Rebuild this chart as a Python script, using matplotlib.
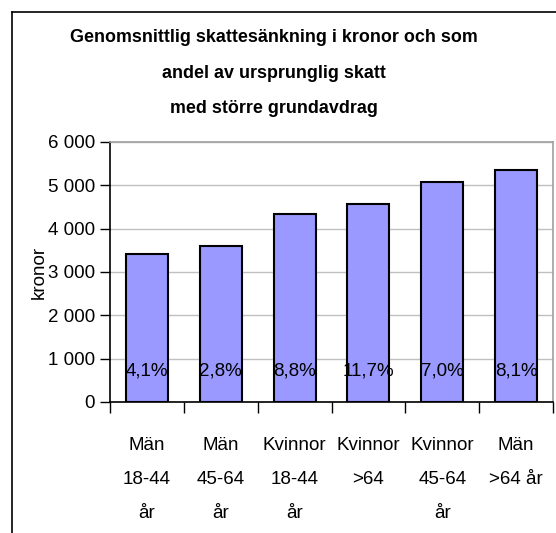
import matplotlib.pyplot as plt
from matplotlib.lines import Line2D
from matplotlib.ticker import FuncFormatter

plt.rcParams['font.family'] = ['Liberation Sans', 'DejaVu Sans']

# Data
categories = ['Män\n18-44\når', 'Män\n45-64\når', 'Kvinnor\n18-44\når',
              'Kvinnor\n>64', 'Kvinnor\n45-64\når', 'Män\n>64 år']
kronor = [3410, 3600, 4330, 4560, 5070, 5350]
andel = ['4,1%', '2,8%', '8,8%', '11,7%', '7,0%', '8,1%']
title = ('Genomsnittlig skattesänkning i kronor och som\n'
         'andel av ursprunglig skatt\n'
         'med större grundavdrag')

fig = plt.figure(figsize=(5.56, 5.33), dpi=100)
ax = fig.add_axes([0.198, 0.2458, 0.7966, 0.4878])

x = list(range(len(categories)))
ax.bar(x, kronor, width=0.57, color='#9999FF', edgecolor='black', linewidth=1.5, zorder=3)

# percentage labels inside the bars
for xi, lab in zip(x, andel):
    ax.text(xi, 720, lab, ha='center', va='center', fontsize=13.5, zorder=4)

ax.set_xlim(-0.5, len(categories) - 0.5)
ax.set_ylim(0, 6000)
ax.set_yticks(range(0, 6001, 1000))
ax.yaxis.set_major_formatter(FuncFormatter(lambda v, p: f'{int(v):,}'.replace(',', ' ')))
ax.grid(axis='y', color='#C0C0C0', linewidth=1, zorder=0)

# ticks at category boundaries, labels at centers
ax.set_xticks([i - 0.5 for i in range(len(categories) + 1)])
ax.set_xticklabels([])
ax.set_xticks(x, minor=True)
ax.set_xticklabels(categories, minor=True, fontsize=13.5, linespacing=2.3)
ax.tick_params(axis='x', which='major', length=8, width=1, direction='out')
ax.tick_params(axis='x', which='minor', length=0, pad=25)
ax.tick_params(axis='y', length=7, width=1, labelsize=13.5, pad=4)

for s in ['top', 'right']:
    ax.spines[s].set_color('#A0A0A0')
    ax.spines[s].set_linewidth(1.2)
for s in ['left', 'bottom']:
    ax.spines[s].set_color('black')
    ax.spines[s].set_linewidth(1.2)

ax.set_ylabel('kronor', fontsize=13.5, labelpad=2)
ax.yaxis.set_label_coords(-0.14, 0.5)

fig.text(0.493, 1 - 73 / 533, title, ha='center', va='center', fontsize=12.9,
         fontweight='bold', linespacing=2.45)

# outer frame of the chart object
fig.add_artist(Line2D([12 / 556, 12 / 556], [0, 1 - 12 / 533], color='black', linewidth=1.2))
fig.add_artist(Line2D([12 / 556, 1], [1 - 12 / 533, 1 - 12 / 533], color='black', linewidth=1.2))

fig.savefig('out.png', dpi=100)
